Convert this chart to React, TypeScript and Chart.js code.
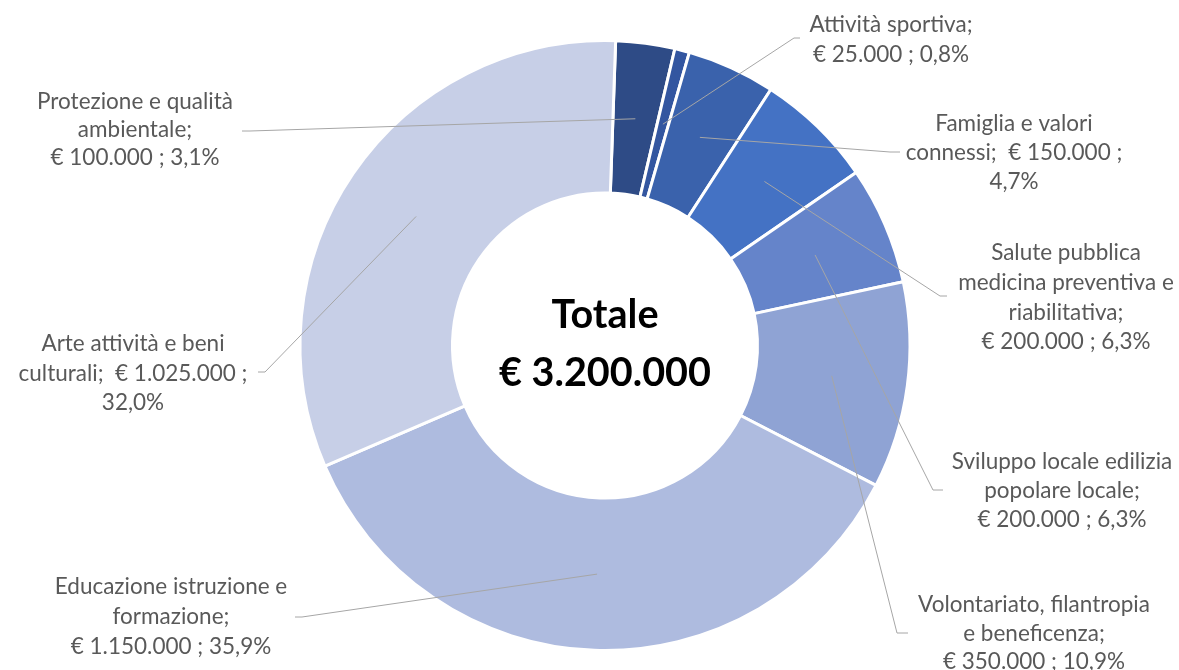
import React, { useEffect, useRef } from "react";
import { Chart, registerables } from "chart.js";

Chart.register(...registerables);

const categories = [
  "Protezione e qualità ambientale",
  "Attività sportiva",
  "Famiglia e valori connessi",
  "Salute pubblica medicina preventiva e riabilitativa",
  "Sviluppo locale edilizia popolare locale",
  "Volontariato, filantropia e beneficenza",
  "Educazione istruzione e formazione",
  "Arte attività e beni culturali",
];
const values = [100000, 25000, 150000, 200000, 200000, 350000, 1150000, 1025000];
const colors = ["#2E4B86", "#3356A0", "#3A62AC", "#4472C4", "#6584CA", "#8FA3D4", "#AEBBDF", "#C7CFE7"];
const labelNameLines = [
  ["Protezione e qualità", "ambientale;"],
  ["Attività sportiva;"],
  ["Famiglia e valori", "connessi;"],
  ["Salute pubblica", "medicina preventiva e", "riabilitativa;"],
  ["Sviluppo locale edilizia", "popolare locale;"],
  ["Volontariato, filantropia", "e beneficenza;"],
  ["Educazione istruzione e", "formazione;"],
  ["Arte attività e beni", "culturali;"],
];
const splitValue = [false, false, true, false, false, false, false, true];
const centerTitle = "Totale";

// text layout for the data labels (centre x, first line y, line height, leader end, elbow)
const labelLayout = [
  { cx: 135, y0: 102, lh: 28, end: [242, 131], elbow: [250, 131] },
  { cx: 891, y0: 25, lh: 30, end: [800, 38], elbow: [794, 38] },
  { cx: 1014, y0: 124, lh: 29, end: [900, 152], elbow: [890, 152] },
  { cx: 1066, y0: 253, lh: 29.7, end: [947, 296], elbow: [940, 296] },
  { cx: 1062, y0: 462, lh: 29, end: [943, 490], elbow: [933, 490] },
  { cx: 1034, y0: 605, lh: 28.5, end: [908, 633], elbow: [897, 633] },
  { cx: 171, y0: 587, lh: 30, end: [295, 617], elbow: [302, 617] },
  { cx: 133, y0: 344, lh: 29.5, end: [258, 372], elbow: [265, 372] },
];

const fmt = (v: number) => String(v).replace(/\B(?=(\d{3})+(?!\d))/g, ".");
const FAMILY = "Lato, 'Open Sans', sans-serif";

const labelPlugin = {
  id: "donutLabels",
  afterDraw(chart: any) {
    const ctx: CanvasRenderingContext2D = chart.ctx;
    const meta = chart.getDatasetMeta(0);
    const total = values.reduce((a, b) => a + b, 0);
    ctx.save();

    // fit label font to reference width
    ctx.font = `20px ${FAMILY}`;
    const lsize = (20 * 196) / ctx.measureText("Protezione e qualità").width;
    ctx.font = `bold 40px ${FAMILY}`;
    const csize = (40 * 212) / ctx.measureText(`€ ${fmt(total)}`).width;

    meta.data.forEach((arc: any, i: number) => {
      const p = arc.tooltipPosition(false);
      const L = labelLayout[i];
      ctx.strokeStyle = "#A6A6A6";
      ctx.lineWidth = 1;
      ctx.beginPath();
      ctx.moveTo(p.x, p.y);
      ctx.lineTo(L.elbow[0], L.elbow[1]);
      ctx.lineTo(L.end[0], L.end[1]);
      ctx.stroke();

      const v = values[i];
      const pct = ((v / total) * 100).toFixed(1).replace(".", ",");
      const lines = labelNameLines[i].slice();
      if (splitValue[i]) {
        lines[lines.length - 1] = lines[lines.length - 1] + `  € ${fmt(v)} ;`;
        lines.push(`${pct}%`);
      } else {
        lines.push(`€ ${fmt(v)} ; ${pct}%`);
      }
      ctx.fillStyle = "#595959";
      ctx.font = `${lsize}px ${FAMILY}`;
      ctx.textAlign = "center";
      ctx.textBaseline = "middle";
      lines.forEach((t, k) => ctx.fillText(t, L.cx, L.y0 + k * L.lh));
    });

    // centre text
    const cx = (chart.chartArea.left + chart.chartArea.right) / 2;
    ctx.fillStyle = "#000000";
    ctx.font = `bold ${csize}px ${FAMILY}`;
    ctx.textAlign = "center";
    ctx.textBaseline = "alphabetic";
    ctx.fillText(centerTitle, cx, 328);
    ctx.fillText(`€ ${fmt(total)}`, cx, 386);
    ctx.restore();
  },
};

export default function App() {
  const ref = useRef<HTMLCanvasElement>(null);
  useEffect(() => {
    const canvas = ref.current!;
    const chart = new Chart(canvas, {
      type: "doughnut",
      data: {
        labels: categories,
        datasets: [
          {
            data: values,
            backgroundColor: colors,
            borderColor: "#FFFFFF",
            borderWidth: 3,
            hoverOffset: 0,
          },
        ],
      },
      options: {
        responsive: false,
        animation: false,
        rotation: 2,
        cutout: "50%",
        events: [],
        layout: { padding: { left: 298.5, top: 39, right: 267.5, bottom: 18 } },
        plugins: { legend: { display: false }, tooltip: { enabled: false } },
      },
      plugins: [labelPlugin],
    } as any);
    return () => chart.destroy();
  }, []);
  return (
    <div style={{ position: "absolute", left: 0, top: 0, width: 1179, height: 670, background: "#fff" }}>
      <canvas ref={ref} width={1179} height={670} style={{ display: "block" }} />
    </div>
  );
}
